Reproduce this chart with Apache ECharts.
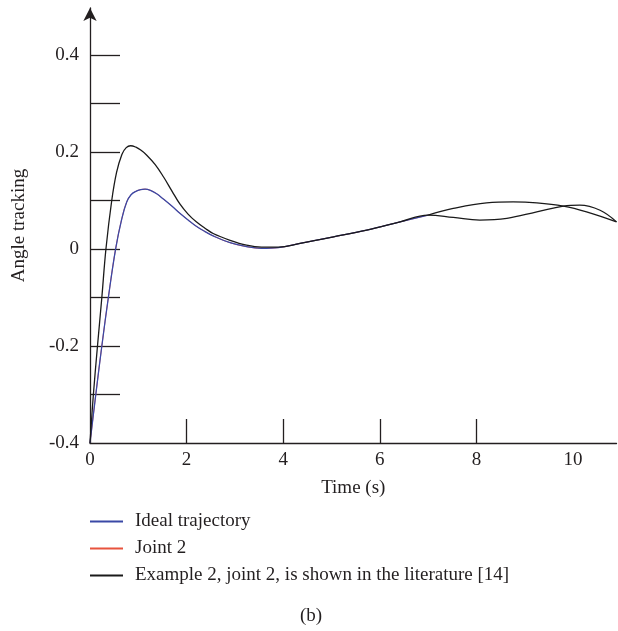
<!DOCTYPE html>
<html>
<head>
<meta charset="utf-8">
<script src="https://cdn.jsdelivr.net/npm/echarts@6/dist/echarts.min.js"></script>
<style>html,body{margin:0;padding:0;background:#fff;}#c{width:618px;height:631px;}</style>
</head>
<body>
<div id="c"></div>
<script>
// ---- data ----
var seriesNames = ['Ideal trajectory', 'Joint 2', 'Example 2, joint 2, is shown in the literature [14]'];
var xTickLabels = [0, 2, 4, 6, 8, 10];
var xTickMarks = [2, 4, 6, 8];
var yTickLabels = [-0.4, -0.2, 0, 0.2, 0.4];
var yTickMarks = [-0.3, -0.2, -0.1, 0, 0.1, 0.2, 0.3, 0.4];

var idealTime  = [0, 0.12, 0.245, 0.38, 0.53, 0.66, 0.76, 0.85, 0.95, 1.05, 1.14, 1.25, 1.38, 1.52, 1.7, 1.86, 2.03, 2.2, 2.38, 2.55, 2.9, 3.24, 3.55, 3.9, 4.35, 5.04, 5.73, 6.42, 7.0];
var idealValue = [-0.4, -0.3, -0.2, -0.1, 0, 0.063, 0.097, 0.112, 0.119, 0.1225, 0.1235, 0.121, 0.114, 0.103, 0.088, 0.074, 0.060, 0.047, 0.036, 0.027, 0.013, 0.005, 0.0015, 0.003, 0.0117, 0.025, 0.039, 0.056, 0.070];

var jointTime  = [0, 0.12, 0.245, 0.38, 0.53, 0.66, 0.76, 0.85, 0.95, 1.05, 1.14, 1.25, 1.38, 1.52, 1.7, 1.86, 2.03, 2.2, 2.38, 2.55, 2.9, 3.24, 3.55, 3.9, 4.35, 5.04, 5.73, 6.42, 7.0];
var jointValue = [-0.4, -0.3, -0.2, -0.1, 0, 0.063, 0.097, 0.112, 0.119, 0.1225, 0.1235, 0.121, 0.114, 0.103, 0.088, 0.074, 0.060, 0.047, 0.036, 0.027, 0.013, 0.005, 0.0015, 0.003, 0.0117, 0.025, 0.039, 0.056, 0.070];

var exampleTime  = [0, 0.07, 0.155, 0.245, 0.33, 0.45, 0.55, 0.66, 0.75, 0.84, 0.95, 1.05, 1.17, 1.35, 1.52, 1.7, 1.86, 2.03, 2.2, 2.38, 2.55, 2.9, 3.24, 3.55, 3.9, 4.35, 5.04, 5.73, 6.42, 7.0, 7.52, 8.07, 8.63, 9.25, 9.8, 10.14, 10.56, 10.9];
var exampleValue = [-0.4, -0.3, -0.2, -0.1, 0, 0.1, 0.158, 0.195, 0.209, 0.213, 0.21, 0.204, 0.194, 0.174, 0.149, 0.119, 0.093, 0.072, 0.056, 0.043, 0.032, 0.018, 0.008, 0.004, 0.004, 0.0117, 0.025, 0.039, 0.056, 0.070, 0.0652, 0.0597, 0.0632, 0.0767, 0.0885, 0.0905, 0.080, 0.056];

var idealTailTime  = [7.0, 7.52, 8.21, 8.76, 9.25, 9.8, 10.28, 10.9];
var idealTailValue = [0.070, 0.0837, 0.0953, 0.0973, 0.0953, 0.0885, 0.0767, 0.056];

function pairs(t, v) { return t.map(function (x, i) { return [x, v[i]]; }); }

var FONT = '"Liberation Serif", "DejaVu Serif", serif';
var INK = '#231f20';
var FS = 19;

var chart = echarts.init(document.getElementById('c'), null, {renderer: 'canvas'});
function lineSeries(name, t, v, color, z, w) {
  return {name: name, type: 'line', data: pairs(t, v), symbol: 'none', showSymbol: false,
    smooth: 0.4,
    lineStyle: {color: color, width: w}, itemStyle: {color: color}, z: z};
}
chart.setOption({
  backgroundColor: '#fff',
  animation: false,
  textStyle: {fontFamily: FONT, color: INK},
  grid: {left: 90, right: 1.5, top: 8, bottom: 188, containLabel: false},
  legend: {
    orient: 'vertical', left: 90, top: 512, padding: 0,
    icon: 'rect', itemWidth: 33, itemHeight: 2, itemGap: 8,
    data: seriesNames,
    textStyle: {fontFamily: FONT, fontSize: FS, color: INK, padding: [0, 0, 0, 7]}
  },
  xAxis: {
    type: 'value', min: 0, max: 10.9,
    name: 'Time (s)', nameLocation: 'middle', nameGap: 36,
    nameTextStyle: {fontFamily: FONT, fontSize: FS, color: INK},
    axisLine: {onZero: false, lineStyle: {color: INK, width: 1.3}},
    axisTick: {inside: true, length: 24, customValues: xTickMarks, lineStyle: {color: INK, width: 1.3}},
    axisLabel: {customValues: xTickLabels, fontFamily: FONT, fontSize: FS, color: INK, margin: 8,
      formatter: function (v) { return String(v); }},
    splitLine: {show: false}
  },
  yAxis: {
    type: 'value', min: -0.4, max: 0.497,
    name: 'Angle tracking', nameLocation: 'middle', nameGap: 61, nameRotate: 90,
    nameTextStyle: {fontFamily: FONT, fontSize: FS, color: INK},
    axisLine: {show: true, onZero: false, symbol: ['none', 'arrow'], symbolSize: [10, 13],
      lineStyle: {color: INK, width: 1.3}},
    axisTick: {show: true, inside: true, length: 30, customValues: yTickMarks, lineStyle: {color: INK, width: 1.3}},
    axisLabel: {customValues: yTickLabels, fontFamily: FONT, fontSize: FS, color: INK, margin: 11,
      formatter: function (v) { return String(Math.round(v * 10) / 10); }},
    splitLine: {show: false}
  },
  series: [
    lineSeries(seriesNames[1], jointTime, jointValue, '#e8533d', 1, 0.9),
    lineSeries(seriesNames[0], idealTime, idealValue, '#3a48a6', 2, 1.3),
    lineSeries('ideal-tail', idealTailTime, idealTailValue, '#1a1a1a', 3, 1.3),
    lineSeries(seriesNames[2], exampleTime, exampleValue, '#1a1a1a', 3, 1.3)
  ],
  graphic: [
    {type: 'text', left: 300, top: 607, style: {text: '(b)', font: FS + 'px ' + FONT, fill: INK}}
  ]
});
</script>
</body>
</html>
